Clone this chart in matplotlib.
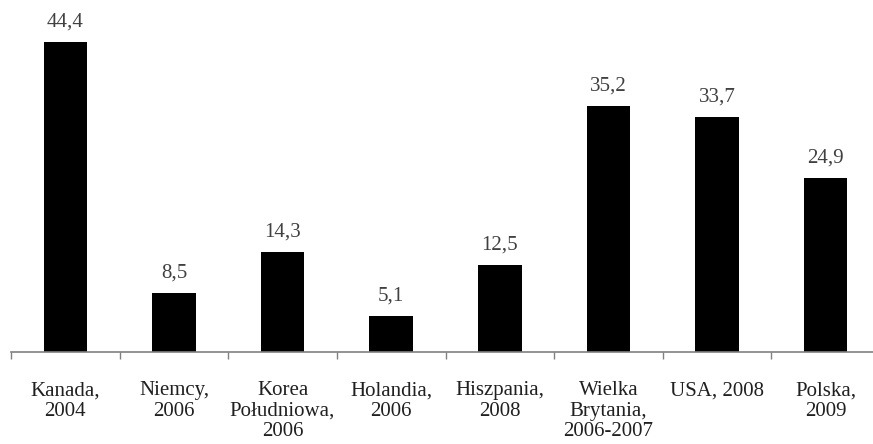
import matplotlib.pyplot as plt
import numpy as np

plt.rcParams['font.family'] = ['Liberation Serif', 'DejaVu Serif']

labels = ['Kanada,\n2004', 'Niemcy,\n2006', 'Korea\nPołudniowa,\n2006', 'Holandia,\n2006',
          'Hiszpania,\n2008', 'Wielka\nBrytania,\n2006-2007', 'USA, 2008', 'Polska,\n2009']
values = [44.4, 8.5, 14.3, 5.1, 12.5, 35.2, 33.7, 24.9]
value_text = ['44,4', '8,5', '14,3', '5,1', '12,5', '35,2', '33,7', '24,9']

fig = plt.figure(figsize=(8.73, 4.44), dpi=100)
ax = fig.add_axes([11 / 873, 92 / 444, 869 / 873, 349 / 444])

x = np.arange(len(values))
ax.bar(x, values, width=0.40, color='black')
ax.set_xlim(-0.5, len(values) - 0.5)
ax.set_ylim(0, 50)

for xi, v, t in zip(x, values, value_text):
    ax.text(xi, v + 1.5, t, ha='center', va='bottom', fontsize=15, color='#404040')

ax.set_xticks(x)
ax.set_xticklabels(labels, fontsize=15, color='#202020', linespacing=1.1)
ax.tick_params(axis='x', length=0, pad=21)
ax.set_xticks(np.arange(-0.5, len(values)), minor=True)
ax.tick_params(axis='x', which='minor', length=5, color='#808080', width=1)
ax.set_yticks([])

for s in ['top', 'right', 'left']:
    ax.spines[s].set_visible(False)
ax.spines['bottom'].set_color('#808080')
ax.spines['bottom'].set_linewidth(1.2)

fig.savefig('out.png', dpi=100)
